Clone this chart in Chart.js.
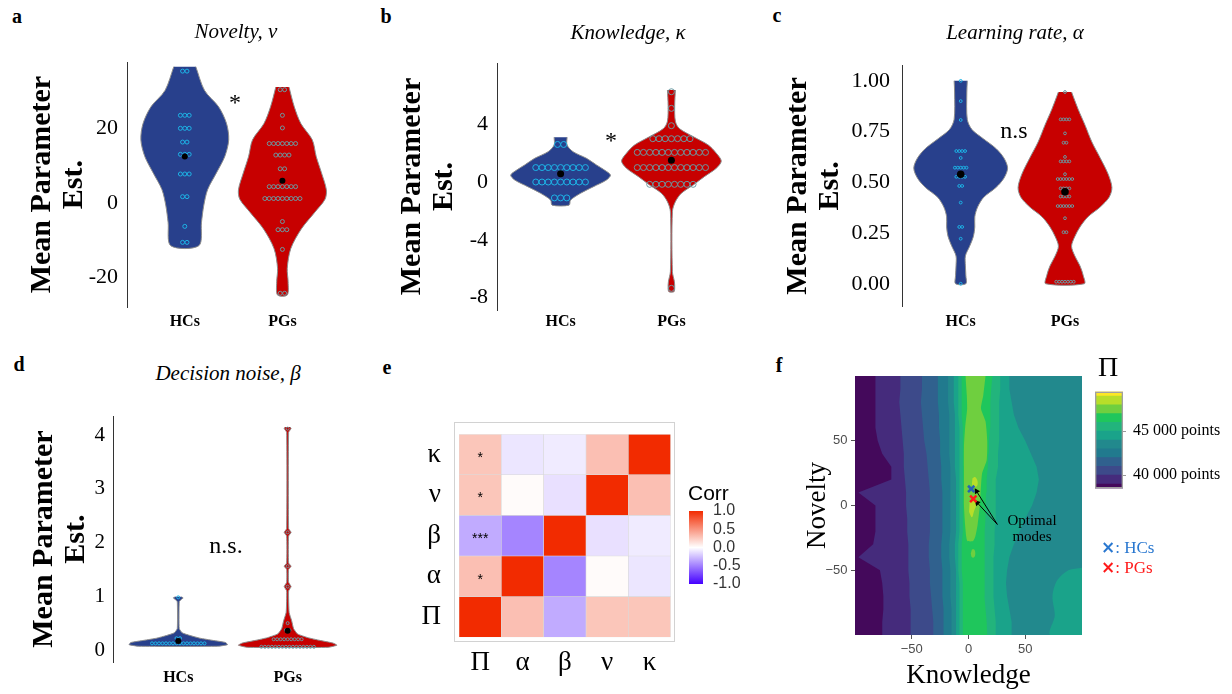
<!DOCTYPE html>
<html><head><meta charset="utf-8">
<script src="https://cdn.jsdelivr.net/npm/chart.js@4.4.1/dist/chart.umd.min.js"></script>
<style>
html,body{margin:0;padding:0;background:#ffffff;}
body{position:relative;width:1232px;height:694px;overflow:hidden;font-family:'Liberation Serif','Times New Roman',serif;color:#000;}
canvas{position:absolute;z-index:1;}
.c{position:absolute;white-space:nowrap;line-height:1;transform:translate(-50%,-50%);z-index:3;}
.l{position:absolute;white-space:nowrap;line-height:1;transform:translate(0,-50%);z-index:3;}
.lab{font-weight:bold;font-size:20px;}
.ttl{font-style:italic;font-size:21px;}
</style></head><body>
<div class="c lab" style="left:17px;top:16px">a</div>
<div class="c lab" style="left:386px;top:16px">b</div>
<div class="c lab" style="left:777px;top:15px">c</div>
<div class="c lab" style="left:19px;top:364px">d</div>
<div class="c lab" style="left:387px;top:367px">e</div>
<div class="c lab" style="left:779px;top:365px">f</div>
<div class="c ttl" style="left:236px;top:31px">Novelty, ν</div>
<div class="c ttl" style="left:628px;top:32px">Knowledge, κ</div>
<div class="c ttl" style="left:1015px;top:32px">Learning rate, α</div>
<div class="c ttl" style="left:228px;top:373px">Decision noise, β</div>
<div class="c" style="left:235px;top:102px;font-size:24px">*</div>
<div class="c" style="left:611px;top:140px;font-size:24px">*</div>
<div class="c" style="left:1014px;top:130px;font-size:24px">n.s</div>
<div class="c" style="left:226px;top:545px;font-size:24px">n.s.</div>
<div style="position:absolute;left:454px;top:422px;width:221px;height:220px;box-sizing:border-box;border:1px solid #d2d2d2;z-index:0;"></div>
<div class="l" style="left:688px;top:492px;font-family:'Liberation Sans',Arial,sans-serif;font-size:21px;">Corr</div>
<div class="c" style="left:1108px;top:367px;font-size:28px">Π</div>
<div class="c" style="left:1032px;top:528px;font-size:15px;line-height:16px;text-align:center">Optimal<br>modes</div>
<div class="l" style="left:1101px;top:547px;font-size:17px;color:#2a78d0"><b style="font-family:'DejaVu Sans'">×</b>: HCs</div>
<div class="l" style="left:1101px;top:567px;font-size:17px;color:#ff1a1a"><b style="font-family:'DejaVu Sans'">×</b>: PGs</div>

<canvas id="ca" width="345" height="300" style="left:0px;top:40px"></canvas>
<canvas id="cb" width="360" height="300" style="left:380px;top:40px"></canvas>
<canvas id="cc" width="360" height="300" style="left:770px;top:40px"></canvas>
<canvas id="cd" width="360" height="299" style="left:0px;top:395px"></canvas>
<canvas id="ce" width="290" height="294" style="left:400px;top:400px"></canvas>
<canvas id="cce" width="80" height="113" style="left:680px;top:491px"></canvas>
<canvas id="cf" width="290" height="344" style="left:800px;top:350px"></canvas>
<canvas id="ccf" width="147" height="130" style="left:1085px;top:375px"></canvas>

<script>
const SERIF = "'Liberation Serif','Times New Roman',serif";
const SANS = "'Liberation Sans',Arial,sans-serif";
Chart.defaults.font.family = SERIF;
Chart.defaults.color = '#000';

// ---------- categories ----------
const groups = ['HCs', 'PGs'];

// ---------- panel a : Novelty ----------
const noveltyHC = [35.5,35.5,23.6,23.6,23.6,20.1,20.1,20.1,16.4,16.4,13.1,13.1,13.1,7.8,7.8,7.8,1.7,1.7,-6.3,-10.6,-10.6];
const noveltyPG = [30.5,30.5,23.6,20.2,16,16,16,16,16,16,16,12.9,12.9,12.9,12.9,9.2,9.2,4.4,4.4,4.4,4.4,4.4,4.4,4.4,1.2,1.2,1.2,1.2,1.2,1.2,1.2,1.2,1.2,-5,-7.2,-7.2,-7.2,-12.5,-24.3,-24.3];
const noveltyMean = [12.5, 6.0];
const noveltyHCLevels = [36.7,30.3,25.9,21.4,17,12.5,8.1,3.6,-0.8,-5.2,-11.5];
const noveltyHCDensity = [0.25,0.45,0.77,0.95,1.0,0.91,0.72,0.52,0.43,0.38,0.32];
const noveltyPGLevels = [31.2,25.9,21.4,17,12.5,8.1,3.6,1,-2.6,-7,-12.3,-17.6,-21.2,-24.8];
const noveltyPGDensity = [0.15,0.27,0.42,0.68,0.77,0.89,1.0,0.97,0.73,0.43,0.19,0.11,0.13,0.11];
const noveltyTicks = [-20, 0, 20];

// ---------- panel b : Knowledge ----------
const knowledgeHC = [2.6,2.6,1,1,1,1,1,1,1,1,1,0,0,0,0,0,0,0,0,0,-1.1,-1.1,-1.1];
const knowledgePG = [6.25,5.1,3.9,3,3,3,3,3,3,3,2.05,2.05,2.05,2.05,2.05,2.05,2.05,2.05,2.05,2.05,2.05,2.05,1,1,1,1,1,1,1,1,1,1,1,1,-0.16,-0.16,-0.16,-0.16,-0.16,-0.16,-0.16,-0.16,-7.36];
const knowledgeMean = [0.57, 1.5];
const knowledgeHCLevels = [3.1,2.56,2.1,1.64,1.18,0.83,0.48,0.14,-0.32,-0.78,-1.25,-1.6];
const knowledgeHCDensity = [0.13,0.13,0.25,0.52,0.72,0.88,1.0,0.92,0.66,0.4,0.2,0.17];
const knowledgePGLevels = [6.37,5.3,4.2,3.7,3.1,2.56,2.0,1.45,0.95,0.37,-0.2,-0.78,-1.36,-2.05,-6.2,-6.9,-7.36,-7.6];
const knowledgePGDensity = [0.08,0.066,0.08,0.16,0.46,0.74,0.9,1.0,0.9,0.66,0.44,0.2,0.08,0.02,0.02,0.06,0.066,0.05];
const knowledgeTicks = [-8, -4, 0, 4];

// ---------- panel c : Learning rate ----------
const learningHC = [1,0.9,0.807,0.654,0.654,0.654,0.654,0.62,0.572,0.572,0.572,0.572,0.572,0.527,0.527,0.527,0.527,0.482,0.482,0.4,0.28,0.28,0.222,0];
const learningPG = [0.945,0.81,0.81,0.81,0.81,0.741,0.695,0.695,0.625,0.603,0.603,0.603,0.603,0.54,0.516,0.516,0.516,0.516,0.516,0.516,0.47,0.47,0.47,0.47,0.43,0.43,0.43,0.43,0.383,0.383,0.383,0.383,0.383,0.383,0.323,0.254,0.254,0.01,0.01,0.01,0.01,0.01,0.01,0.01];
const learningMean = [0.54, 0.453];
const learningHCLevels = [1.0,0.94,0.81,0.76,0.715,0.667,0.62,0.57,0.52,0.474,0.426,0.378,0.33,0.28,0.233,0.185,0.137,0.088,0.04,0.0];
const learningHCDensity = [0.14,0.13,0.14,0.24,0.48,0.75,0.92,1,0.92,0.75,0.49,0.36,0.3,0.3,0.27,0.19,0.1,0.1,0.11,0.11];
const learningPGLevels = [0.945,0.86,0.78,0.70,0.62,0.54,0.474,0.426,0.378,0.33,0.28,0.233,0.185,0.137,0.088,0.04,0.0];
const learningPGDensity = [0.14,0.28,0.43,0.57,0.75,0.92,1,0.94,0.75,0.49,0.32,0.21,0.14,0.21,0.32,0.39,0.41];
const learningTicks = [0, 0.25, 0.5, 0.75, 1];

// ---------- panel d : Decision noise ----------
const noiseHC = [0.124,0.124,0.124,0.124,0.124,0.124,0.124,0.124,0.124,0.124,0.124,0.124,0.124,0.124,0.124,0.124,0.22,0.22,0.98];
const noisePG = [0.06,0.06,0.06,0.06,0.06,0.06,0.06,0.06,0.06,0.06,0.06,0.06,0.06,0.06,0.06,0.06,0.2,0.2,0.2,0.2,0.2,0.2,0.2,0.2,0.2,0.37,0.37,0.5,1.18,1.56,2.19,4.12];
const noiseMean = [0.17, 0.36];
const noiseHCLevels = [0.99,0.97,0.94,0.90,0.40,0.32,0.27,0.22,0.18,0.14,0.10,0.07];
const noiseHCDensity = [0.06,0.1,0.06,0.02,0.02,0.08,0.24,0.44,0.7,0.96,1,0.8];
const noisePGLevels = [4.15,4.12,4.05,2.26,2.19,2.12,1.62,1.56,1.5,1.26,1.18,1.1,0.7,0.55,0.40,0.30,0.23,0.18,0.13,0.09,0.05];
const noisePGDensity = [0.05,0.07,0.02,0.02,0.07,0.02,0.02,0.07,0.02,0.02,0.07,0.02,0.03,0.08,0.12,0.2,0.41,0.65,0.92,1,0.82];
const noiseTicks = [0, 1, 2, 3, 4];

// ---------- panel e : correlations ----------
const corrLabels = ['Π', 'α', 'β', 'ν', 'κ'];
const corrPi    = [1, 0.30, -0.33, 0.27, 0.27];
const corrAlpha = [0.30, 1, -0.48, 0.02, -0.10];
const corrBeta  = [-0.33, -0.48, 1, -0.12, -0.08];
const corrNu    = [0.27, 0.02, -0.12, 1, 0.30];
const corrKappa = [0.27, -0.10, -0.08, 0.30, 1];
const corrSig   = ['', '*', '***', '*', '*'];   // significance vs Π, rows Π..κ
const corrTicks = [-1, -0.5, 0, 0.5, 1];

// ---------- panel f : performance landscape ----------
const contourNovelty = [100,90,80,70,60,50,40,30,20,10,0,-10,-20,-30,-40,-50,-60,-70,-80,-90,-100];
const contourL1 = [-82,-82,-82,-82,-82,-80,-76,-68,-68,-97,-82,-82,-82,-84,-97,-78,-76,-75,-75,-76,-76];
const contourL2 = [-60,-60,-61,-60,-59,-58,-57,-57,-56,-55,-55,-54,-54,-53,-53,-53,-52,-52,-51,-51,-51];
const contourL3 = [-41,-41,-42,-41,-40,-39,-37,-36,-35,-34,-34,-34,-34,-35,-35,-34,-34,-33,-32,-31,-31];
const contourL4 = [-27,-27,-27,-26,-26,-25,-25,-24,-24,-23,-23,-23,-23,-24,-24,-23,-23,-23,-22,-22,-22];
const contourL5 = [-18,-18,-18,-17,-17,-17,-17,-16,-16,-16,-16,-16,-16,-17,-17,-16,-16,-16,-15,-15,-15];
const contourL6 = [-13,-13,-13,-12,-12,-12,-12,-12,-11,-11,-11,-11,-11,-12,-12,-11,-11,-11,-11,-11,-11];
const contourL7 = [-9,-9,-9,-9,-8,-8,-8,-8,-8,-8,-8,-8,-8,-9,-9,-9,-8,-8,-8,-8,-8];
const contourL8 = [-6,-6,-6,-6,-5,-5,-5,-5,-5,-5,-5,-5,-5,-6,-6,-6,-5,-5,-5,-5,-5];
const contourR6 = [36,36,38,40,44,50,55,60,62,60,56,50,45,40,36,34,33,34,36,38,38];
const contourR7 = [28,28,27,27,27,27,26,26,24,24,24,24,23,23,22,22,22,22,23,24,24];
const contourR8 = [21,20,19.5,19,19,18,17.5,17,16,15.5,15,15,14.5,14.5,14,14,14,14,15,16,16.5];
const islandL6K = [100,88,78,74,76,72,100];
const islandL6N = [-48,-50,-58,-70,-85,-100,-100];
const limeK = [-2.6,-1.5,-1.2,-3,-4,-4,-4,-4,-3,-2,-1,4,6,8,10,11,12,16,16.5,15,11,13,15];
const limeN = [100,85,75,60,45,30,15,0,-15,-24,-27.5,-27.5,-24,-15,0,15,25,35,50,65,75,85,100];
const blobK = [3,5,6,5,3,2];
const blobN = [-34,-34,-37,-40,-40,-37];
const peakUpK = [3.5,5.5,7.5,8,6,4,3];
const peakUpN = [21,22,20,16,14,14,17];
const peakLowK = [1,5,6.5,5,3,0.5];
const peakLowN = [3,4,0,-4,-9,-5];
const modeK = [2.4, 4.2];      // HCs, PGs optimal modes
const modeN = [12.8, 5.1];
const arrowFromK = [25.4, 25.4];
const arrowFromN = [-14.6, -14.6];
const arrowToK = [7.1, 7.7];
const arrowToN = [11, 2.1];
const contourTicks = [-50, 0, 50];
const piBreaks = [38500,39000,40000,41000,42000,43000,44000,45000,46000,47000,48000,49000,49500];
const piTicks = [40000, 45000];
const piTickLabels = ['40 000 points', '45 000 points'];

// ---------- styles ----------
const HC_FILL = '#28408c', PG_FILL = '#c70000', OUTLINE = '#8c8c8c';
const HC_DOT = '#1db3e6', PG_DOT = '#6b99a1';
const VIOLIN_HALF = 0.45;
const levelColors = ['#44095b','#452b7c','#3d4a8a','#30618e','#217a8e','#22898d','#1aa38a','#22b47c','#1fc65c','#6fcf3f','#b8de29','#fde725'];
const corrHigh = [242, 43, 0], corrLow = [68, 0, 255];
const KMIN = -100, KMAX = 100, NMIN = -100, NMAX = 100;

function violinPolygon(center, levels, density) {
  const right = levels.map((v, i) => ({x: center + VIOLIN_HALF * density[i], y: v}));
  const left = levels.map((v, i) => ({x: center - VIOLIN_HALF * density[i], y: v})).reverse();
  return right.concat(left);
}
function dotPositions(center, values, spacing) {
  const count = {}, seen = {};
  values.forEach(v => { count[v] = (count[v] || 0) + 1; });
  return values.map(v => {
    const j = seen[v] || 0; seen[v] = j + 1;
    return {x: center + (j - (count[v] - 1) / 2) * spacing, y: v};
  });
}
function fixedTicks(values) { return s => { s.ticks = values.map(v => ({value: v})); }; }
const noInteract = {legend: {display: false}, tooltip: {enabled: false}};

function violinChart(id, p) {
  const datasets = [
    {data: violinPolygon(1, p.hcLevels, p.hcDensity), fill: 'shape', backgroundColor: HC_FILL, borderColor: OUTLINE, borderWidth: 1, pointRadius: 0, tension: p.tension},
    {data: violinPolygon(2, p.pgLevels, p.pgDensity), fill: 'shape', backgroundColor: PG_FILL, borderColor: OUTLINE, borderWidth: 1, pointRadius: 0, tension: p.tension},
    {data: dotPositions(1, p.hcDots, p.spacing), showLine: false, pointRadius: p.dotR, pointBorderWidth: 1, pointBorderColor: HC_DOT, pointBackgroundColor: 'rgba(0,0,0,0)'},
    {data: dotPositions(2, p.pgDots, p.spacing), showLine: false, pointRadius: p.dotR, pointBorderWidth: 1, pointBorderColor: PG_DOT, pointBackgroundColor: 'rgba(0,0,0,0)'},
    {data: [{x: 1, y: p.means[0]}, {x: 2, y: p.means[1]}], showLine: false, pointRadius: p.meanR, pointBorderWidth: 0, pointBackgroundColor: '#000', pointBorderColor: '#000'}
  ].reverse();
  return new Chart(document.getElementById(id), {
    type: 'line',
    data: {datasets},
    options: {
      responsive: false, animation: false, events: [],
      layout: {padding: {left: 0, top: p.padTop, right: p.padRight, bottom: 0}},
      plugins: noInteract,
      scales: {
        x: {type: 'linear', min: p.xMin, max: p.xMax,
            grid: {display: false, drawTicks: false}, border: {display: false},
            afterBuildTicks: fixedTicks([1, 2]),
            ticks: {callback: v => groups[Math.round(v) - 1], font: {family: SERIF, size: 16, weight: 'bold'}, color: '#000', padding: p.xPad, maxRotation: 0, autoSkip: false},
            afterFit: s => { s.height = p.xHeight; }},
        y: {type: 'linear', min: p.yMin, max: p.yMax,
            grid: {display: false, drawTicks: false}, border: {display: true, color: '#333', width: 1},
            afterBuildTicks: fixedTicks(p.yTicks),
            ticks: {callback: p.fmt, font: {family: SERIF, size: p.tickSize}, color: '#000', padding: p.yPad, autoSkip: false},
            title: {display: true, text: ['Mean Parameter', 'Est.'], font: {family: SERIF, size: 30, weight: 'bold', lineHeight: 1.07}, color: '#000', padding: {top: p.titlePad, bottom: 0}},
            afterFit: s => { s.width = p.yWidth; }}
      }
    }
  });
}

const intFmt = v => String(v);
violinChart('ca', {hcLevels: noveltyHCLevels, hcDensity: noveltyHCDensity, pgLevels: noveltyPGLevels, pgDensity: noveltyPGDensity,
  hcDots: noveltyHC, pgDots: noveltyPG, means: noveltyMean, yTicks: noveltyTicks, fmt: intFmt,
  xMin: 0.408, xMax: 2.59, yMin: -28, yMax: 37.9, padTop: 20, padRight: 4, xHeight: 33, yWidth: 127,
  xPad: 5, yPad: 9, titlePad: 26, tickSize: 22, spacing: 0.045, dotR: 2, meanR: 3, tension: 0.3});
violinChart('cb', {hcLevels: knowledgeHCLevels, hcDensity: knowledgeHCDensity, pgLevels: knowledgePGLevels, pgDensity: knowledgePGDensity,
  hcDots: knowledgeHC, pgDots: knowledgePG, means: knowledgeMean, yTicks: knowledgeTicks, fmt: intFmt,
  xMin: 0.426, xMax: 2.574, yMin: -8.86, yMax: 8.24, padTop: 23, padRight: 5, xHeight: 30, yWidth: 117,
  xPad: 2, yPad: 9, titlePad: 16, tickSize: 22, spacing: 0.056, dotR: 3, meanR: 3.5, tension: 0.3});
violinChart('cc', {hcLevels: learningHCLevels, hcDensity: learningHCDensity, pgLevels: learningPGLevels, pgDensity: learningPGDensity,
  hcDots: learningHC, pgDots: learningPG, means: learningMean, yTicks: learningTicks, fmt: v => v.toFixed(2),
  xMin: 0.437, xMax: 2.563, yMin: -0.113, yMax: 1.077, padTop: 20, padRight: 6.3, xHeight: 33.3, yWidth: 132,
  xPad: 5.5, yPad: 12, titlePad: 12, tickSize: 22, spacing: 0.028, dotR: 1.4, meanR: 3.8, tension: 0.3});
violinChart('cd', {hcLevels: noiseHCLevels, hcDensity: noiseHCDensity, pgLevels: noisePGLevels, pgDensity: noisePGDensity,
  hcDots: noiseHC, pgDots: noisePG, means: noiseMean, yTicks: noiseTicks, fmt: intFmt,
  xMin: 0.408, xMax: 2.592, yMin: -0.223, yMax: 4.353, padTop: 21, padRight: 7.6, xHeight: 32, yWidth: 113.5,
  xPad: 6.4, yPad: 8.5, titlePad: 28, tickSize: 21, spacing: 0.032, dotR: 1.5, meanR: 3, tension: 0.15});

// ---------- heatmap ----------
function corrColor(r) {
  const c = r >= 0 ? corrHigh : corrLow;
  const t = Math.min(1, Math.abs(r));
  return 'rgb(' + c.map(ch => Math.round(255 + (ch - 255) * t)).join(',') + ')';
}
const corrRows = [corrPi, corrAlpha, corrBeta, corrNu, corrKappa];
const sigPlugin = {
  id: 'sig',
  afterDatasetsDraw(chart) {
    const {ctx, scales: {x, y}} = chart;
    ctx.save();
    ctx.font = '14px ' + SANS;
    ctx.fillStyle = '#000';
    ctx.textAlign = 'center';
    ctx.textBaseline = 'middle';
    corrSig.forEach((s, i) => { if (s) ctx.fillText(s, x.getPixelForValue(0), y.getPixelForValue(i + 0.5) + 3.5); });
    ctx.restore();
  }
};
new Chart(document.getElementById('ce'), {
  type: 'bar',
  data: {labels: corrLabels, datasets: corrRows.map(row => ({
    data: row.map(() => 1), backgroundColor: row.map(corrColor),
    borderColor: 'rgba(210,210,210,0.7)', borderWidth: 0.6, borderSkipped: false,
    barPercentage: 1, categoryPercentage: 1}))},
  options: {
    responsive: false, animation: false, events: [],
    layout: {padding: {left: 0, top: 26.7, right: 19.3, bottom: 0}},
    plugins: noInteract,
    scales: {
      x: {stacked: true, grid: {display: false, drawTicks: false}, border: {display: false},
          ticks: {font: {family: SERIF, size: 27}, color: '#000', padding: 9},
          afterFit: s => { s.height = 56.7; }},
      y: {stacked: true, min: 0, max: 5, grid: {display: false, drawTicks: false}, border: {display: false},
          afterBuildTicks: fixedTicks([0.5, 1.5, 2.5, 3.5, 4.5]),
          ticks: {callback: v => corrLabels[Math.floor(v)], font: {family: SERIF, size: 27}, color: '#000', padding: 18, autoSkip: false},
          afterFit: s => { s.width = 59; }}
    }
  },
  plugins: [sigPlugin]
});
new Chart(document.getElementById('cce'), {
  type: 'bar',
  data: {labels: [''], datasets: [{data: [[-1, 1]], borderWidth: 0, barPercentage: 1, categoryPercentage: 1,
    backgroundColor: c => {
      const a = c.chart.chartArea;
      if (!a) return corrColor(0);
      const g = c.chart.ctx.createLinearGradient(0, a.bottom, 0, a.top);
      corrTicks.forEach(v => g.addColorStop((v + 1) / 2, corrColor(v)));
      return g;
    }}]},
  options: {
    responsive: false, animation: false, events: [],
    layout: {padding: {left: 9, top: 20, right: 0, bottom: 20}},
    plugins: noInteract,
    scales: {
      x: {display: false},
      y: {position: 'right', min: -1, max: 1, grid: {display: false, drawTicks: false}, border: {display: false},
          afterBuildTicks: fixedTicks(corrTicks),
          ticks: {callback: v => v.toFixed(1), font: {family: SANS, size: 16}, color: '#333', padding: 10, autoSkip: false},
          afterFit: s => { s.width = 57; }}
    }
  }
});

// ---------- contour landscape ----------
const contourSets = [];
function polygon(points, color, tension) {
  contourSets.push({data: points, fill: 'shape', backgroundColor: color, borderWidth: 0, pointRadius: 0, tension: tension || 0});
}
function band(left, right) {
  const pts = contourNovelty.map((n, i) => ({x: left[i], y: n}));
  if (right) { for (let i = contourNovelty.length - 1; i >= 0; i--) pts.push({x: right[i], y: contourNovelty[i]}); }
  else { pts.push({x: KMAX, y: NMIN}); pts.push({x: KMAX, y: NMAX}); }
  return pts;
}
function zipPts(ks, ns) { return ks.map((k, i) => ({x: k, y: ns[i]})); }
polygon([{x: KMIN, y: NMAX}, {x: KMAX, y: NMAX}, {x: KMAX, y: NMIN}, {x: KMIN, y: NMIN}], levelColors[0]);
polygon(band(contourL1, null), levelColors[1]);
polygon(band(contourL2, null), levelColors[2]);
polygon(band(contourL3, null), levelColors[3]);
polygon(band(contourL4, null), levelColors[4]);
polygon(band(contourL5, null), levelColors[5]);
polygon(band(contourL6, contourR6), levelColors[6]);
polygon(zipPts(islandL6K, islandL6N), levelColors[6], 0.3);
polygon(band(contourL7, contourR7), levelColors[7]);
polygon(band(contourL8, contourR8), levelColors[8]);
polygon(zipPts(limeK, limeN), levelColors[9], 0.2);
polygon(zipPts(blobK, blobN), levelColors[9], 0.4);
polygon(zipPts(peakUpK, peakUpN), levelColors[10], 0.4);
polygon(zipPts(peakLowK, peakLowN), levelColors[10], 0.4);
arrowFromK.forEach((k, i) => {
  contourSets.push({
    data: [{x: k, y: arrowFromN[i]}, {x: arrowToK[i], y: arrowToN[i]}],
    borderColor: '#000', borderWidth: 1, fill: false,
    pointRadius: [0, 3.5], pointStyle: 'triangle', pointBackgroundColor: '#000', pointBorderColor: '#000', pointBorderWidth: 0,
    pointRotation: c => {
      const ch = c.chart, xs = ch.scales.x, ys = ch.scales.y, d = c.dataset.data;
      if (!xs || !ys) return 0;
      const dx = xs.getPixelForValue(d[1].x) - xs.getPixelForValue(d[0].x);
      const dy = ys.getPixelForValue(d[1].y) - ys.getPixelForValue(d[0].y);
      return Math.atan2(dx, -dy) * 180 / Math.PI;
    }
  });
});
contourSets.push({data: [{x: modeK[0], y: modeN[0]}], showLine: false, pointStyle: 'crossRot', pointRadius: 4.5, pointBorderWidth: 2.5, pointBorderColor: '#2563b5', pointBackgroundColor: '#2563b5'});
contourSets.push({data: [{x: modeK[1], y: modeN[1]}], showLine: false, pointStyle: 'crossRot', pointRadius: 4.5, pointBorderWidth: 2.5, pointBorderColor: '#ff1a1a', pointBackgroundColor: '#ff1a1a'});

const minusFmt = v => (v < 0 ? '\u2212' + Math.abs(v) : String(v));
new Chart(document.getElementById('cf'), {
  type: 'line',
  data: {datasets: contourSets.slice().reverse()},
  options: {
    responsive: false, animation: false, events: [],
    layout: {padding: {left: 0, top: 26, right: 8, bottom: 0}},
    plugins: noInteract,
    scales: {
      x: {type: 'linear', min: KMIN, max: KMAX,
          grid: {display: true, drawOnChartArea: false, drawTicks: true, tickLength: 4, color: '#555'}, border: {display: false},
          afterBuildTicks: fixedTicks(contourTicks),
          ticks: {callback: minusFmt, font: {family: SANS, size: 13}, color: '#4d4d4d', padding: 3, maxRotation: 0, autoSkip: false},
          title: {display: true, text: 'Knowledge', font: {family: SERIF, size: 27}, color: '#000', padding: {top: 0, bottom: 2}},
          afterFit: s => { s.height = 59; }},
      y: {type: 'linear', min: NMIN, max: NMAX,
          grid: {display: true, drawOnChartArea: false, drawTicks: true, tickLength: 4, color: '#555'}, border: {display: false},
          afterBuildTicks: fixedTicks(contourTicks),
          ticks: {callback: minusFmt, font: {family: SANS, size: 13}, color: '#4d4d4d', padding: 3.5, autoSkip: false},
          title: {display: true, text: 'Novelty', font: {family: SERIF, size: 27}, color: '#000', padding: {top: 2, bottom: 0}},
          afterFit: s => { s.width = 55; }}
    }
  }
});

// ---------- Π colour bar ----------
const piSets = [{data: [[piBreaks[0], piBreaks[piBreaks.length - 1]]], backgroundColor: 'rgba(0,0,0,0)', borderColor: '#a0a0a0', borderWidth: 1, borderSkipped: false, grouped: false, barPercentage: 1, categoryPercentage: 1}];
levelColors.forEach((col, i) => piSets.push({data: [[piBreaks[i], piBreaks[i + 1]]], backgroundColor: col, borderWidth: 0, grouped: false, barPercentage: 1, categoryPercentage: 1}));
new Chart(document.getElementById('ccf'), {
  type: 'bar',
  data: {labels: [''], datasets: piSets},
  options: {
    responsive: false, animation: false, events: [],
    layout: {padding: {left: 10, top: 10, right: 0, bottom: 9}},
    plugins: noInteract,
    scales: {
      x: {display: false},
      y: {position: 'right', min: piBreaks[0], max: piBreaks[piBreaks.length - 1],
          grid: {display: true, drawOnChartArea: false, drawTicks: true, tickLength: 3, color: '#999'}, border: {display: false},
          afterBuildTicks: fixedTicks(piTicks),
          ticks: {callback: (v, i) => piTickLabels[i], font: {family: SERIF, size: 16}, color: '#000', padding: 7, autoSkip: false},
          afterFit: s => { s.width = 109; }}
    }
  }
});
</script>
</body></html>
